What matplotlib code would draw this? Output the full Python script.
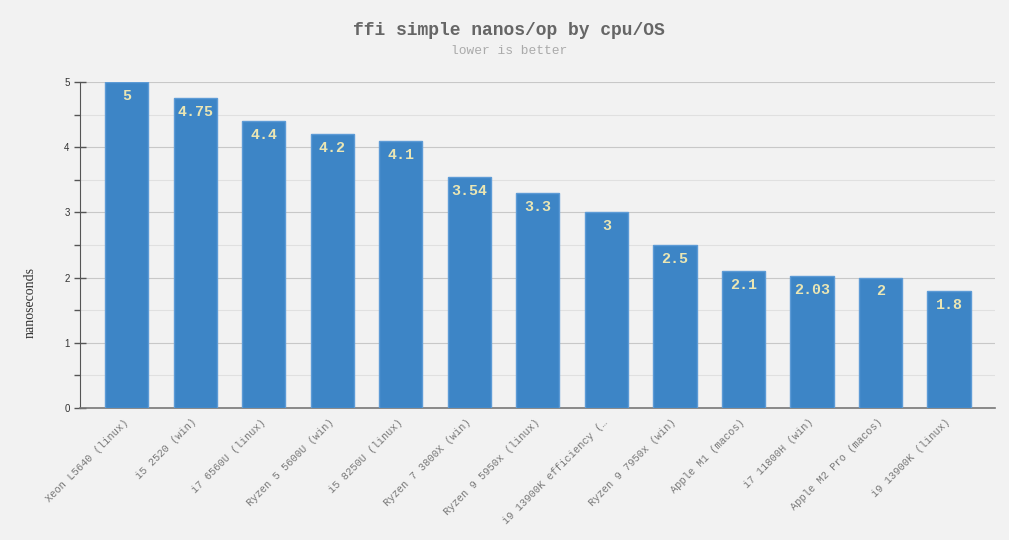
import matplotlib
matplotlib.use("Agg")
import matplotlib.pyplot as plt
from matplotlib.ticker import MultipleLocator

categories = ["Xeon L5640 (linux)", "i5 2520 (win)", "i7 6560U (linux)", "Ryzen 5 5600U (win)",
              "i5 8250U (linux)", "Ryzen 7 3800X (win)", "Ryzen 9 5950x (linux)",
              "i9 13900K efficiency (\u2026", "Ryzen 9 7950x (win)", "Apple M1 (macos)",
              "i7 11800H (win)", "Apple M2 Pro (macos)", "i9 13900K (linux)"]
values = [5, 4.75, 4.4, 4.2, 4.1, 3.54, 3.3, 3, 2.5, 2.1, 2.03, 2, 1.8]
value_labels = ["5", "4.75", "4.4", "4.2", "4.1", "3.54", "3.3", "3", "2.5", "2.1", "2.03", "2", "1.8"]

bg = "#f2f2f2"
fig = plt.figure(figsize=(10.09, 5.4), dpi=100, facecolor=bg)
ax = fig.add_axes([80/1009, 132/540, 915/1009, 326/540], facecolor=bg)

x = list(range(len(categories)))
ax.bar(x, values, width=0.63, color="#3d85c6", edgecolor="#5d9bd6", linewidth=1, zorder=3)

for xi, v, lab in zip(x, values, value_labels):
    ax.annotate(lab, (xi, v), xytext=(0, -10), textcoords="offset points",
                ha="center", va="center", fontsize=10.8, fontweight="bold",
                family="Liberation Mono", color="#eae6b4", zorder=4)

ax.set_xlim(-0.68, 12.67)
ax.set_ylim(0, 5)
ax.yaxis.set_major_locator(MultipleLocator(1))
ax.yaxis.set_minor_locator(MultipleLocator(0.5))
ax.grid(axis="y", which="major", color="#c8c8c8", linewidth=0.8, zorder=0)
ax.grid(axis="y", which="minor", color="#e0e0e0", linewidth=0.8, zorder=0)

for s in ["top", "right"]:
    ax.spines[s].set_visible(False)
ax.spines["left"].set_color("#555555")
ax.spines["bottom"].set_color("#777777")
ax.spines["bottom"].set_linewidth(1.2)

ax.tick_params(axis="y", which="major", direction="inout", length=9, width=1, color="#555555",
               labelsize=7, labelcolor="#333333", pad=3)
ax.tick_params(axis="y", which="minor", direction="out", length=4, width=1, color="#555555")
for t in ax.get_yticklabels():
    t.set_family("Liberation Sans")

ax.set_xticks(x)
ax.set_xticklabels(categories, rotation=45, ha="right", va="center", rotation_mode="anchor",
                   fontsize=7.5, family="Liberation Mono", color="#777777")
ax.tick_params(axis="x", length=0, pad=9)

fig.text(30/1009, 1 - 302/540, "nanoseconds", rotation=90, ha="center", va="center",
         family="Liberation Serif", fontsize=10, color="#333333")

fig.text(509/1009, 1 - 31/540, "ffi simple nanos/op by cpu/OS", ha="center", va="center",
         family="Liberation Mono", fontweight="bold", fontsize=13, color="#666666")
fig.text(509/1009, 1 - 51/540, "lower is better", ha="center", va="center",
         family="Liberation Mono", fontsize=9.3, color="#aaaaaa")

fig.savefig("out.png", dpi=100, facecolor=bg)
